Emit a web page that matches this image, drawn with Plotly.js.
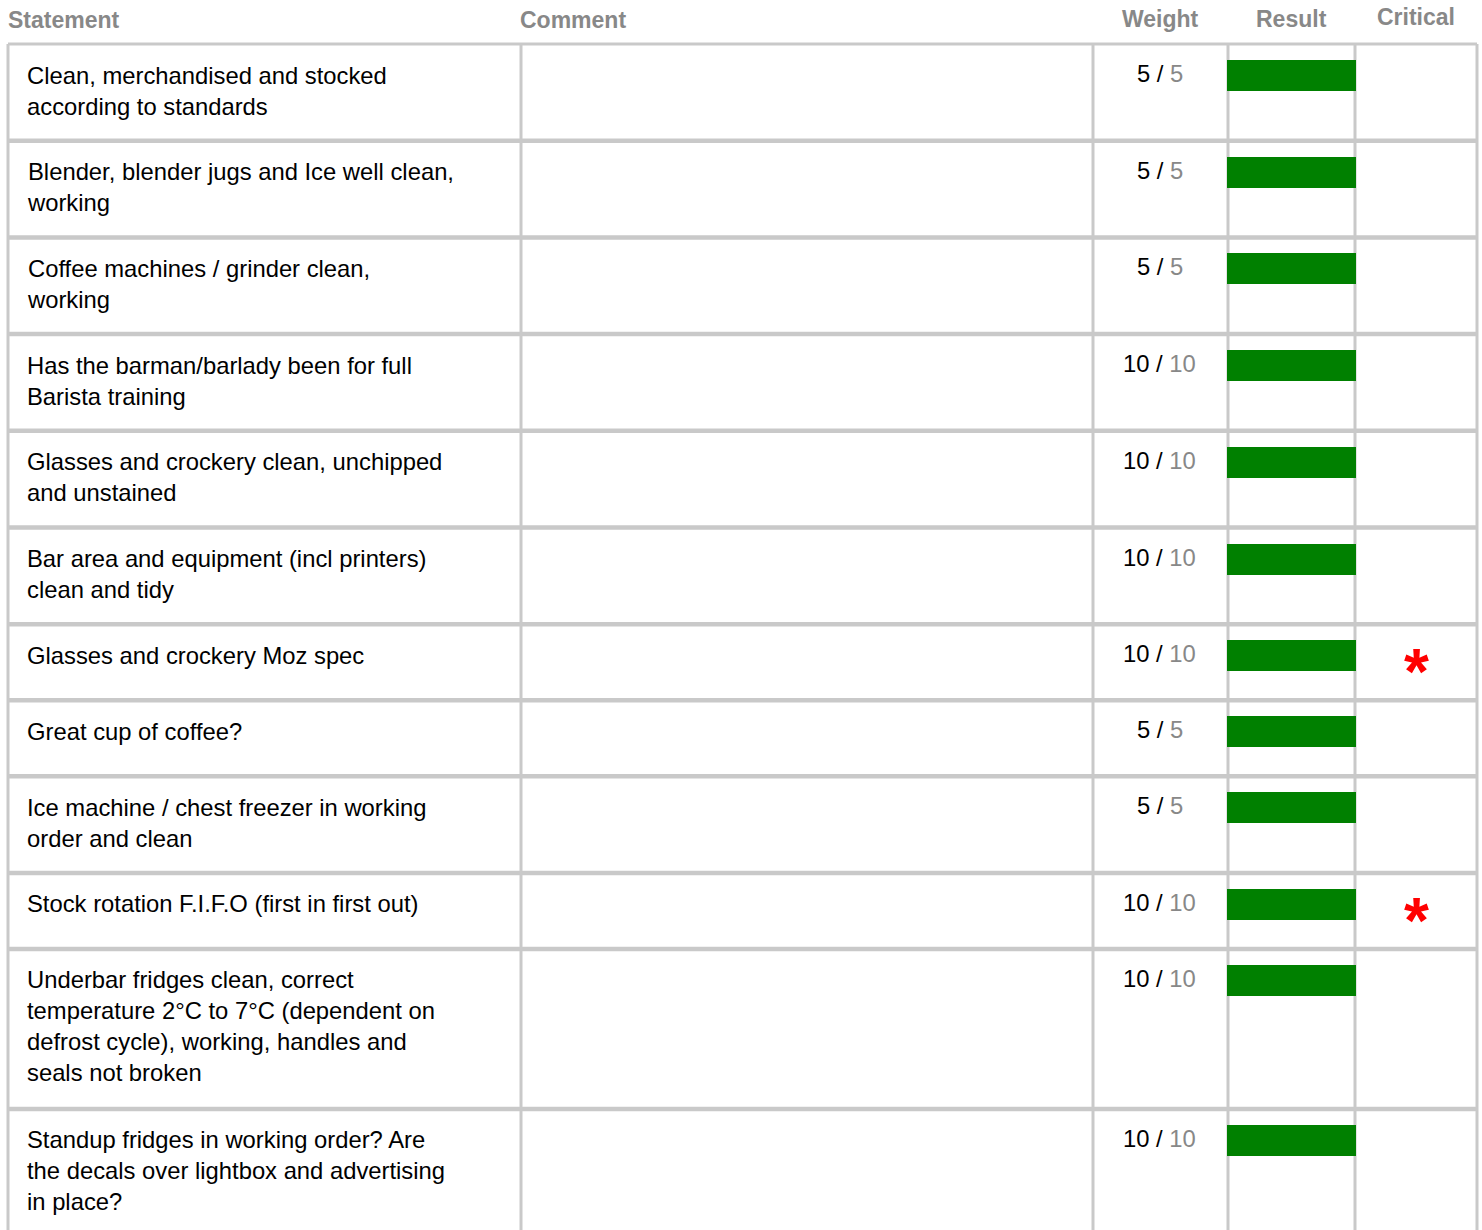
<!DOCTYPE html>
<html>
<head>
<meta charset="utf-8">
<script src="https://cdn.plot.ly/plotly-3.0.1.min.js"></script>
<style>html,body{margin:0;padding:0;background:#fff;}#chart{width:1482px;height:1230px;}</style>
</head>
<body>
<div id="chart"></div>
<script>
// ---- data ----
const headers = ["Statement", "Comment", "Weight", "Result", "Critical"];
const statements = [
  "Clean, merchandised and stocked<br>according to standards",
  "Blender, blender jugs and Ice well clean,<br>working",
  "Coffee machines / grinder clean,<br>working",
  "Has the barman/barlady been for full<br>Barista training",
  "Glasses and crockery clean, unchipped<br>and unstained",
  "Bar area and equipment (incl printers)<br>clean and tidy",
  "Glasses and crockery Moz spec",
  "Great cup of coffee?",
  "Ice machine / chest freezer in working<br>order and clean",
  "Stock rotation F.I.F.O (first in first out)",
  "Underbar fridges clean, correct<br>temperature 2°C to 7°C (dependent on<br>defrost cycle), working, handles and<br>seals not broken",
  "Standup fridges in working order? Are<br>the decals over lightbox and advertising<br>in place?"
];
const comments = ["", "", "", "", "", "", "", "", "", "", "", ""];
const scores  = [5, 5, 5, 10, 10, 10, 10, 5, 5, 10, 10, 10];
const weights = [5, 5, 5, 10, 10, 10, 10, 5, 5, 10, 10, 10];
const critical = [false, false, false, false, false, false, true, false, false, true, false, false];

// ---- layout geometry ----
const W = 1482, H = 1230;
const colEdges = [8, 521, 1093, 1228, 1355, 1477];
const tableTop = 44;
const FS = 23.8;
const gridColor = "#c9c9c9";
const green = "#008000";

function rowHeight(txt) {
  const n = txt.split("<br>").length;
  return Math.max(76, 33.4 + 31.65 * n);
}
const rowTops = [];
let yy = tableTop;
statements.forEach(s => { rowTops.push(yy); yy += rowHeight(s); });
const tableBottom = yy;

const shapes = [];
const annotations = [];

// header
const headerX = [colEdges[0] - 2, colEdges[1] - 3, (colEdges[2] + colEdges[3]) / 2, (colEdges[3] + colEdges[4]) / 2, (colEdges[4] + colEdges[5]) / 2];
const headerBase = [27, 27, 26, 26, 24];
headers.forEach((h, i) => {
  annotations.push({
    x: headerX[i], y: headerBase[i] - 21.8, xref: "x", yref: "y",
    xanchor: i < 2 ? "left" : "center", yanchor: "top",
    text: "<b>" + h + "</b>", showarrow: false,
    font: {family: "Liberation Sans, Arial, sans-serif", size: 23, color: "#888888"}
  });
});

// grid: horizontal lines at row boundaries
const bounds = rowTops.concat([tableBottom]);
bounds.forEach(b => {
  shapes.push({type: "line", xref: "x", yref: "y", x0: colEdges[0], x1: colEdges[5], y0: b, y1: b,
    line: {color: gridColor, width: b === tableTop ? 3 : 4.5}, layer: "below"});
});
// vertical lines
colEdges.forEach(c => {
  shapes.push({type: "line", xref: "x", yref: "y", x0: c, x1: c, y0: tableTop, y1: tableBottom,
    line: {color: gridColor, width: 3}, layer: "below"});
});

// cells
statements.forEach((s, i) => {
  const top = rowTops[i];
  annotations.push({
    x: colEdges[0] + 17, y: top + 38 - 22.5, xref: "x", yref: "y",
    xanchor: "left", yanchor: "top", align: "left",
    text: s, showarrow: false,
    font: {family: "Liberation Sans, Arial, sans-serif", size: FS, color: "#000000"}
  });
  annotations.push({
    x: (colEdges[2] + colEdges[3]) / 2 - 1, y: top + 36.5 - 22.5, xref: "x", yref: "y",
    xanchor: "center", yanchor: "top",
    text: scores[i] + " / <span style=\"color:#888888\">" + weights[i] + "</span>", showarrow: false,
    font: {family: "Liberation Sans, Arial, sans-serif", size: FS, color: "#000000"}
  });
  if (critical[i]) {
    annotations.push({
      x: (colEdges[4] + colEdges[5]) / 2, y: top + 48, xref: "x", yref: "y",
      xanchor: "center", yanchor: "middle",
      text: "<b>*</b>", showarrow: false,
      font: {family: "Liberation Sans, Arial, sans-serif", size: 64, color: "#ff0000"}
    });
  }
});

// result bars
const barMax = colEdges[4] - colEdges[3] + 2;
const barTrace = {
  type: "bar", orientation: "h",
  x: scores.map((s, i) => barMax * s / weights[i]),
  base: scores.map(() => colEdges[3] - 1),
  y: rowTops.map(t => t + 31.5),
  width: scores.map(() => 31),
  marker: {color: green, line: {width: 0}},
  hoverinfo: "skip", showlegend: false
};

const layout = {
  width: W, height: H,
  margin: {l: 0, r: 0, t: 0, b: 0},
  paper_bgcolor: "#ffffff", plot_bgcolor: "#ffffff",
  xaxis: {range: [0, W], visible: false, fixedrange: true},
  yaxis: {range: [H, 0], visible: false, fixedrange: true},
  shapes: shapes, annotations: annotations,
  showlegend: false, bargap: 0
};

Plotly.newPlot("chart", [barTrace], layout, {displayModeBar: false, staticPlot: true});
</script>
</body>
</html>
